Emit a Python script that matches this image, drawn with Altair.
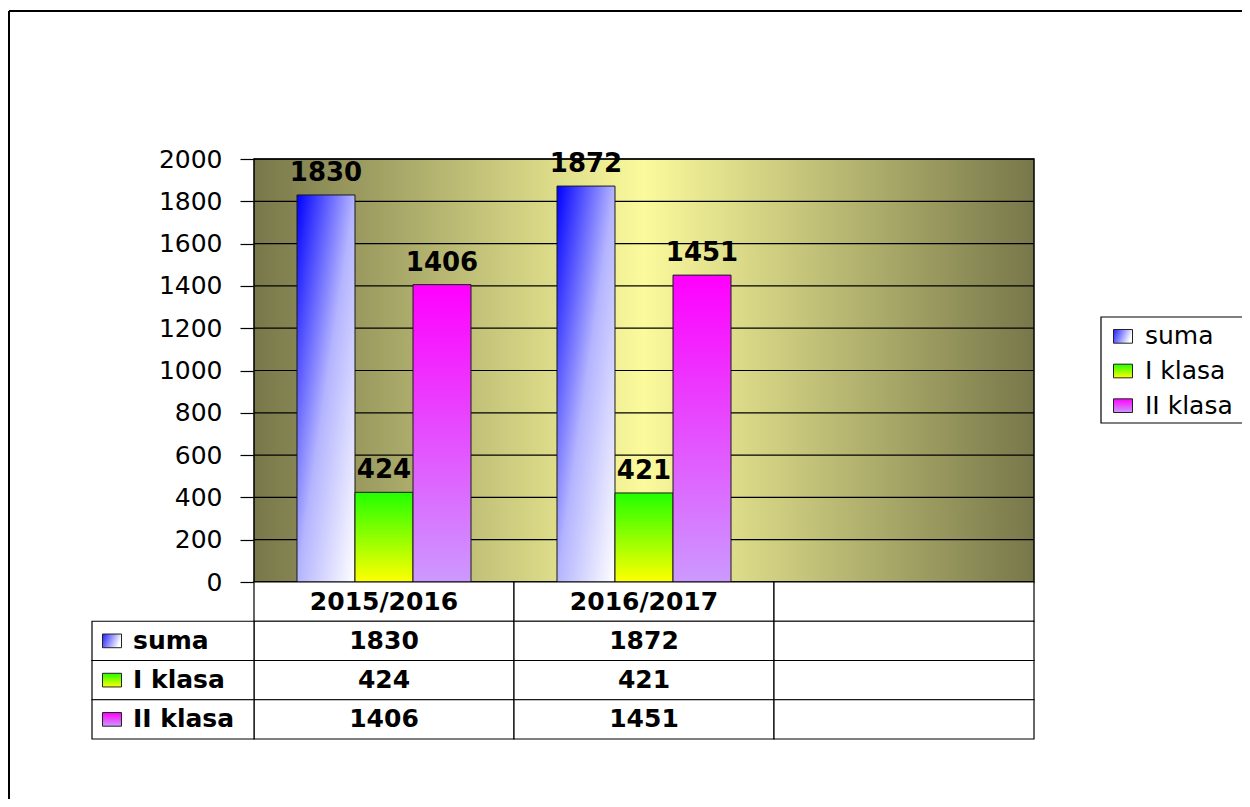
import altair as alt
import pandas as pd

# ---------------- data ----------------
categories = ["2015/2016", "2016/2017"]
blank_column = " "
series = ["suma", "I klasa", "II klasa"]
suma = [1830, 1872]
klasa_1 = [424, 421]
klasa_2 = [1406, 1451]
y_ticks = [0, 200, 400, 600, 800, 1000, 1200, 1400, 1600, 1800, 2000]
header_key = "_header"

columns = categories + [blank_column]
table_rows = [header_key] + series
values_by_series = {"suma": suma, "I klasa": klasa_1, "II klasa": klasa_2}

bars_df = pd.DataFrame(
    [{"cat": c, "series": s, "value": v}
     for s in series for c, v in zip(categories, values_by_series[s])]
)
ticks_df = pd.DataFrame({"tick": y_ticks})

table_records = []
for c in columns:
    table_records.append({"row": header_key, "cat": c, "text": c.strip()})
    for s in series:
        if c in categories:
            txt = str(values_by_series[s][categories.index(c)])
        else:
            txt = ""
        table_records.append({"row": s, "cat": c, "text": txt})
table_df = pd.DataFrame(table_records)
series_df = pd.DataFrame({"row": series})
one_df = pd.DataFrame({"k": [0]})

# ---------------- styles ----------------
FONT = "DejaVu Sans"


def lg(stops, x1, y1, x2, y2):
    return alt.LinearGradient(
        gradient="linear",
        stops=[alt.GradientStop(color=c, offset=o) for o, c in stops],
        x1=x1, y1=y1, x2=x2, y2=y2,
    )


fills = {
    "suma": lg([(0, "#0000ff"), (0.5, "#b4b4ff"), (1, "#ffffff")], 0, 0, 1, 1),
    "I klasa": lg([(0, "#22ff00"), (1, "#ffff00")], 0, 0, 0, 1),
    "II klasa": lg([(0, "#ff00ff"), (1, "#cc99ff")], 0, 0, 0, 1),
}
swatch_fills = {
    "suma": lg([(0, "#2020ff"), (1, "#ffffff")], 0, 0, 1, 0.3),
    "I klasa": lg([(0, "#22ff00"), (1, "#ffff00")], 0, 0, 0, 1),
    "II klasa": lg([(0, "#ff00ff"), (1, "#cc99ff")], 0, 0, 0, 1),
}
bg_fill = lg([(0, "#77774a"), (0.5, "#fbfa9c"), (1, "#77774a")], 0, 0, 1, 0)

W, H = 780, 423

x_scale = alt.Scale(domain=columns, paddingInner=0, paddingOuter=0)
x_enc = alt.X("cat:N", scale=x_scale, axis=None, sort=columns)
xoff_enc = alt.XOffset("series:N", sort=series,
                       scale=alt.Scale(domain=series, paddingInner=0, paddingOuter=0.741))
y_scale = alt.Scale(domain=[0, 2000], nice=False, zero=True)
y_axis = alt.Axis(values=y_ticks, format="d", grid=False, title=None, labelFont=FONT,
                  labelFontSize=25, labelColor="black", tickColor="black",
                  tickSize=14, tickWidth=1.2, domainColor="black", domainWidth=1.2,
                  labelPadding=18)

# ---------------- plot area ----------------
bg = alt.Chart(one_df).mark_rect(fill=bg_fill, stroke="black", strokeWidth=1.5).encode(
    x=alt.value(0), x2=alt.value("width"),
    y=alt.YDatum(2000, type="quantitative", scale=y_scale, axis=y_axis),
    y2=alt.Y2Datum(0),
)
grid = alt.Chart(ticks_df).mark_rule(color="black", strokeWidth=1.2).encode(
    y=alt.Y("tick:Q", scale=y_scale, axis=y_axis)
)
bar_layers = []
for s in series:
    bar_layers.append(
        alt.Chart(bars_df).transform_filter(alt.datum.series == s)
        .mark_bar(fill=fills[s], stroke="#1a1a1a", strokeWidth=1)
        .encode(x=x_enc, xOffset=xoff_enc,
                y=alt.Y("value:Q", scale=y_scale, axis=y_axis))
    )
bar_labels = alt.Chart(bars_df).mark_text(
    font=FONT, fontWeight="bold", fontSize=26, color="black",
    baseline="alphabetic", dy=-14
).encode(x=x_enc, xOffset=xoff_enc,
         y=alt.Y("value:Q", scale=y_scale, axis=y_axis),
         text="value:Q")
plot = alt.layer(bg, grid, *bar_layers, bar_labels)

# ---------------- data table ----------------
ty_scale = alt.Scale(domain=table_rows, range=[H, H + 157], paddingInner=0, paddingOuter=0)
ty_enc = alt.Y("row:N", scale=ty_scale, axis=None, sort=table_rows)
cells = alt.Chart(table_df).mark_rect(fill="white", stroke="black", strokeWidth=1.2).encode(
    x=x_enc, y=ty_enc
)
cell_text = alt.Chart(table_df).mark_text(
    font=FONT, fontWeight="bold", fontSize=25, color="black", baseline="middle"
).encode(x=x_enc, y=ty_enc, text="text:N")
label_cells = alt.Chart(series_df).mark_rect(fill="white", stroke="black", strokeWidth=1.2).encode(
    x=alt.value(-162), x2=alt.value(0), y=ty_enc
)
SW_PATH = "M-1,-0.72L1,-0.72L1,0.72L-1,0.72Z"
label_swatches = [
    alt.Chart(series_df).transform_filter(alt.datum.row == s).mark_point(
        shape=SW_PATH, size=361, filled=True, fill=swatch_fills[s], opacity=1,
        stroke="#222", strokeWidth=1
    ).encode(x=alt.value(-142), y=ty_enc)
    for s in series
]
label_text = alt.Chart(series_df).mark_text(
    font=FONT, fontWeight="bold", fontSize=25, color="black", align="left", baseline="middle"
).encode(x=alt.value(-121), y=ty_enc, text="row:N")
table = alt.layer(cells, cell_text, label_cells, *label_swatches, label_text)

# ---------------- legend ----------------
ly_scale = alt.Scale(domain=series, range=[160, 264], paddingInner=0, paddingOuter=0)
ly_enc = alt.Y("row:N", scale=ly_scale, axis=None, sort=series)
legend_box = alt.Chart(one_df).mark_rect(fill="white", stroke="black", strokeWidth=1.2).encode(
    x=alt.value(847), x2=alt.value(1010), y=alt.value(158), y2=alt.value(264)
)
legend_swatches = [
    alt.Chart(series_df).transform_filter(alt.datum.row == s).mark_point(
        shape=SW_PATH, size=361, filled=True, fill=swatch_fills[s], opacity=1,
        stroke="#222", strokeWidth=1
    ).encode(x=alt.value(869), y=ly_enc)
    for s in series
]
legend_text = alt.Chart(series_df).mark_text(
    font=FONT, fontSize=25, color="black", align="left", baseline="middle"
).encode(x=alt.value(891), y=ly_enc, text="row:N")
legend = alt.layer(legend_box, *legend_swatches, legend_text)

# ---------------- outer frame (left and top edges; the rest lies outside the window) ----
frame_left = alt.Chart(one_df).mark_rule(color="black", strokeWidth=2).encode(
    x=alt.value(-245), y=alt.value(-148), y2=alt.value(1000)
)
frame_top = alt.Chart(one_df).mark_rule(color="black", strokeWidth=2).encode(
    x=alt.value(-245), x2=alt.value(1300), y=alt.value(-148)
)

chart = alt.layer(frame_left, frame_top, plot, table, legend).resolve_scale(
    x="independent", y="independent"
).properties(
    width=W, height=H,
    autosize=alt.AutoSizeParams(type="none"),
    padding={"left": 246, "top": 151, "right": 208, "bottom": 217},
    background="white",
).configure_view(stroke=None, fill=None)

chart.save("out.html", embed_options={"renderer": "svg", "actions": False})
